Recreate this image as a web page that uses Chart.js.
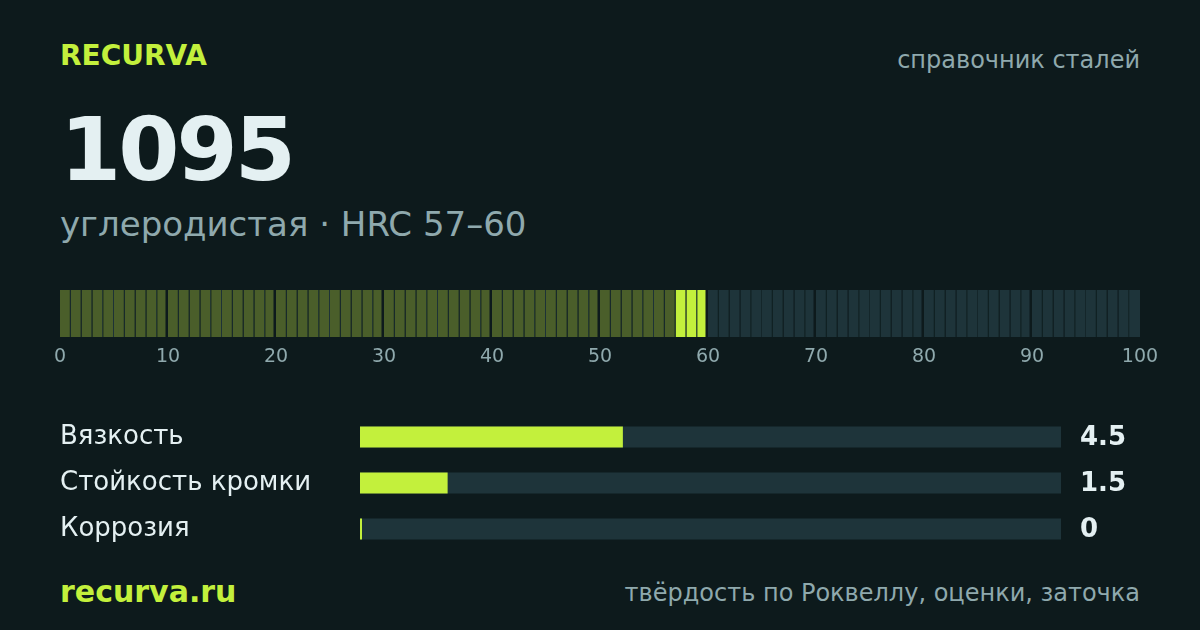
<!DOCTYPE html>
<html lang="ru">
<head>
<meta charset="utf-8">
<title>1095 — справочник сталей</title>
<script src="https://cdn.jsdelivr.net/npm/chart.js@4"></script>
<style>
  html, body { margin: 0; padding: 0; }
  body {
    width: 1200px; height: 630px; overflow: hidden;
    background: #0d1a1c;
    font-family: "DejaVu Sans", sans-serif;
    position: relative;
  }
  .txt { position: absolute; line-height: 1; white-space: nowrap; }
  #brand { left: 60px; top: 42px; font-size: 28px; font-weight: bold; color: #c3f03c; }
  #kind { right: 60px; top: 48px; font-size: 24px; color: #8fa9ad; }
  #steel { left: 60px; top: 106px; font-size: 88px; font-weight: bold; color: #e4f0f2; letter-spacing: -3px; }
  #sub { left: 60px; top: 207px; font-size: 34px; color: #8fa9ad; }
  #site { left: 60px; top: 577px; font-size: 30px; font-weight: bold; color: #c3f03c; }
  #note { right: 60px; top: 581px; font-size: 24px; color: #8fa9ad; }
  #scaleBox { position: absolute; left: 0; top: 280px; width: 1200px; height: 100px; }
  #ratingBox { position: absolute; left: 0; top: 414px; width: 1200px; height: 138px; }
</style>
</head>
<body>
<div class="txt" id="brand">RECURVA</div>
<div class="txt" id="kind">справочник сталей</div>
<div class="txt" id="steel">1095</div>
<div class="txt" id="sub">углеродистая · HRC 57–60</div>
<div id="scaleBox"><canvas id="scaleChart"></canvas></div>
<div id="ratingBox"><canvas id="ratingChart"></canvas></div>
<div class="txt" id="site">recurva.ru</div>
<div class="txt" id="note">твёрдость по Роквеллу, оценки, заточка</div>

<script>
// данные
const hrcRange = [57, 60];
const scaleMin = 0;
const scaleMax = 100;
const scaleStep = 10;

const ratingLabels = ['Вязкость', 'Стойкость кромки', 'Коррозия'];
const ratingValues = [4.5, 1.5, 0];
const ratingMax = 12;

// цвета
const BG = '#0d1a1c';
const LIME = '#c3f03c';
const OLIVE = '#4a5e2a';
const TEAL = '#1e343a';
const GREY = '#8fa9ad';
const WHITE = '#e4f0f2';

// сегменты шкалы: по одному на каждую единицу HRC
const segments = [];
for (let i = scaleMin; i < scaleMax; i++) segments.push({ x: i + 0.5, y: 1 });

function unitOf(ctx) {
    return ctx.raw ? ctx.raw.x - 0.5 : 0;
}

function segColor(ctx) {
    const u = unitOf(ctx);
    if (u >= hrcRange[0] && u < hrcRange[1]) return LIME;
    if (u < hrcRange[0]) return OLIVE;
    return TEAL;
}

new Chart(document.getElementById('scaleChart'), {
    type: 'bar',
    data: {
        datasets: [{
            data: segments,
            backgroundColor: segColor,
            borderColor: ctx => {
                const u = unitOf(ctx);
                if (u % scaleStep === scaleStep - 1) return BG;
                return u >= hrcRange[1] ? '#14262a' : '#1d3236';
            },
            borderWidth: ctx => {
                const u = unitOf(ctx);
                if (u === scaleMax - 1) return 0;
                if (u % scaleStep === scaleStep - 1) return { right: 2.5 };
                return { right: 1 };
            },
            borderSkipped: false,
            inflateAmount: 0,
            barPercentage: 1,
            categoryPercentage: 1
        }]
    },
    options: {
        responsive: true,
        maintainAspectRatio: false,
        animation: false,
        layout: { padding: { top: 10, left: 60, right: 60, bottom: 0 } },
        plugins: { legend: { display: false }, tooltip: { enabled: false } },
        scales: {
            x: {
                type: 'linear',
                offset: false,
                min: scaleMin,
                max: scaleMax,
                border: { display: false },
                grid: { display: false, drawTicks: false, offset: false },
                ticks: {
                    stepSize: scaleStep,
                    color: GREY,
                    padding: 9,
                    maxRotation: 0,
                    font: { family: 'DejaVu Sans', size: 19 }
                },
                afterFit: s => { s.height = 43; }
            },
            y: { display: false, min: 0, max: 1 }
        }
    }
});

// подписи значений справа от дорожек
const valueLabels = {
    id: 'valueLabels',
    afterDatasetsDraw(chart) {
        const c = chart.ctx;
        const meta = chart.getDatasetMeta(0);
        c.save();
        c.fillStyle = WHITE;
        c.font = 'bold 26px "DejaVu Sans"';
        c.textAlign = 'left';
        c.textBaseline = 'middle';
        meta.data.forEach((bar, i) => {
            c.fillText(String(ratingValues[i]), chart.chartArea.right + 19, bar.y + 1);
        });
        c.restore();
    }
};

new Chart(document.getElementById('ratingChart'), {
    type: 'bar',
    data: {
        labels: ratingLabels,
        datasets: [{
            data: ratingValues,
            backgroundColor: LIME,
            minBarLength: 2,
            barThickness: 21,
            order: 1
        }, {
            data: ratingLabels.map(() => ratingMax),
            backgroundColor: TEAL,
            barThickness: 21,
            order: 2
        }]
    },
    options: {
        indexAxis: 'y',
        responsive: true,
        maintainAspectRatio: false,
        animation: false,
        datasets: { bar: { grouped: false, inflateAmount: 0, borderWidth: 0 } },
        layout: { padding: { top: 0, bottom: 0, left: 60, right: 139 } },
        plugins: { legend: { display: false }, tooltip: { enabled: false } },
        scales: {
            x: { display: false, min: 0, max: ratingMax },
            y: {
                border: { display: false },
                grid: { display: false, drawTicks: false },
                ticks: {
                    crossAlign: 'far',
                    color: WHITE,
                    font: { family: 'DejaVu Sans', size: 26 }
                },
                afterFit: s => {
                    s.width = 300;
                    s.paddingTop = 0;
                    s.paddingBottom = 0;
                }
            }
        }
    },
    plugins: [valueLabels]
});
</script>
</body>
</html>
